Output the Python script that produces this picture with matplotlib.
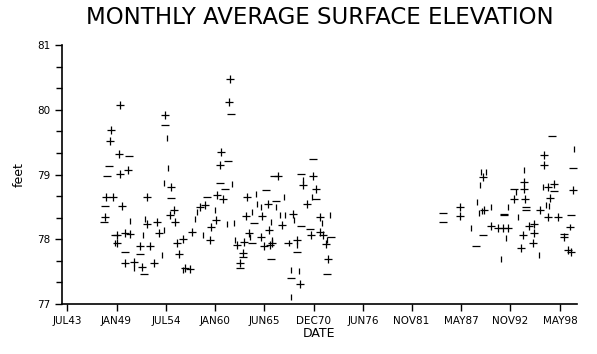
import numpy as np
import matplotlib.pyplot as plt
from matplotlib.ticker import MultipleLocator

# monthly averages, three symbol groups (decimal year, feet)
plus_year = [1949.33, 1948.37, 1948.22, 1949.22, 1949.41, 1950.22, 1947.85, 1948.60, 1949.60, 1952.39,
             1947.74, 1952.39, 1949.04, 1949.04, 1949.97, 1950.53, 1951.56, 1952.76, 1949.97, 1950.89,
             1951.83, 1953.12, 1954.43, 1955.06, 1955.35, 1954.99, 1955.54, 1953.50, 1953.68, 1955.73,
             1956.40, 1955.91, 1956.66, 1957.14, 1957.40, 1958.33, 1958.89, 1959.50, 1959.45, 1961.60,
             1961.56, 1960.64, 1960.48, 1960.19, 1960.86, 1963.46, 1960.11, 1965.83, 1963.35, 1965.21,
             1963.71, 1963.16, 1962.42, 1965.02, 1965.95, 1965.39, 1966.06, 1963.05, 1962.79, 1966.95,
             1970.90, 1969.74, 1971.19, 1970.15, 1968.66, 1967.44, 1970.60, 1971.63, 1971.63, 1972.01,
             1972.27, 1966.32, 1969.03, 1972.52, 1969.40,
             1987.24, 1987.24, 1989.85, 1989.74, 1990.67, 1991.41, 1996.61, 1996.61, 1994.31, 1996.99,
             1997.66, 1999.78, 1993.26, 1994.38, 1994.46, 1997.28, 1996.16, 1996.99, 1998.10, 1995.43,
             1994.94, 1991.97, 1992.53, 1994.20, 1995.49, 1995.31, 1998.84, 1994.01, 1999.22, 1999.58]
plus_feet = [80.08, 79.68, 79.51, 79.31, 79.01, 79.07, 78.66, 78.66, 78.52, 78.65,
             78.34, 78.23, 78.07, 77.95, 78.10, 78.08, 77.90, 77.89, 77.63, 77.65,
             77.58, 77.63, 79.92, 78.81, 78.45, 78.38, 78.26, 78.26, 78.09, 77.95,
             78.01, 77.77, 77.55, 77.54, 78.12, 78.50, 78.53, 78.19, 77.99, 80.47,
             80.12, 79.34, 79.15, 78.68, 78.62, 78.65, 78.30, 78.54, 78.36, 78.36,
             78.09, 77.96, 77.91, 78.04, 78.14, 77.89, 77.91, 77.79, 77.64, 78.97,
             78.98, 78.84, 78.77, 78.54, 78.39, 78.22, 78.06, 78.35, 78.12, 78.06,
             77.92, 77.95, 77.99, 77.69, 77.31,
             78.50, 78.36, 78.46, 78.96, 78.20, 78.18, 79.30, 79.15, 78.89, 78.80,
             78.85, 78.76, 78.62, 78.77, 78.62, 78.63, 78.45, 78.35, 78.35, 78.24,
             78.20, 78.17, 78.17, 78.06, 78.09, 77.94, 78.04, 77.86, 77.83, 77.81]

minus_year = [1950.34, 1948.18, 1947.99, 1947.74, 1947.55, 1949.97, 1951.64, 1952.01, 1954.43, 1955.06,
              1959.08, 1961.68, 1961.37, 1960.48, 1961.12, 1965.58, 1964.27, 1964.09, 1963.05, 1962.71,
              1966.14, 1966.50, 1970.85, 1969.48, 1971.15, 1966.69, 1969.48, 1970.52, 1972.83, 1968.06,
              1969.11, 1972.46, 1968.44, 1948.85,
              1985.28, 1985.28, 1989.74, 1989.00, 1992.08, 1997.43, 1999.78, 1997.66, 1993.19, 1992.14,
              1994.57, 1994.57, 1999.58, 1999.40, 1998.84]
minus_feet = [79.29, 79.13, 78.97, 78.52, 78.26, 77.80, 77.77, 77.47, 79.76, 78.63,
              78.66, 79.94, 79.21, 78.87, 78.77, 78.76, 78.25, 77.94, 77.73, 77.55,
              77.69, 78.97, 79.24, 79.01, 78.62, 78.59, 78.20, 78.16, 78.03, 77.95,
              77.81, 77.47, 77.41, 78.07,
              78.40, 78.26, 78.07, 77.89, 78.37, 79.59, 79.10, 78.75, 78.77, 78.39,
              78.50, 78.45, 78.37, 78.19, 78.08]

vbar_year = [1950.53, 1952.21, 1948.85, 1951.98, 1950.89, 1954.62, 1954.69, 1954.32, 1954.24, 1954.06,
             1957.77, 1958.63, 1957.96, 1956.43, 1961.87, 1964.47, 1960.00, 1961.31, 1962.04, 1964.09,
             1964.65, 1965.02, 1963.90, 1966.14, 1962.23, 1969.74, 1970.79, 1966.69, 1967.62, 1967.17,
             1967.70, 1968.73, 1971.90, 1972.74, 1966.32, 1968.18, 1969.03, 1968.37, 1969.29, 1968.37,
             1972.46,
             1989.13, 1989.33, 1989.68, 1990.67, 1989.55, 1990.11, 1989.47, 1988.44, 1991.78, 1999.89,
             1994.31, 1996.43, 1993.45, 1997.17, 1992.53, 1993.64, 1999.40, 1992.34, 1996.05, 1996.80]
vbar_feet = [78.29, 78.32, 77.94, 78.06, 77.55, 79.56, 79.10, 78.87, 78.14, 77.76,
             78.32, 78.06, 78.42, 77.52, 78.85, 78.70, 78.45, 78.24, 78.25, 78.42,
             78.54, 78.50, 78.04, 78.27, 77.99, 78.92, 78.66, 78.50, 78.66, 78.37,
             78.37, 78.30, 78.25, 78.37, 77.99, 77.95, 77.91, 77.52, 77.51, 77.11,
             77.99,
             78.57, 78.40, 78.43, 78.50, 79.04, 79.04, 78.84, 78.17, 77.69, 79.39,
             79.07, 78.81, 78.73, 78.51, 78.50, 78.35, 78.19, 78.02, 77.76, 78.53]

tick_pos = [1943.5, 1949.0, 1954.5, 1960.0, 1965.42, 1970.92, 1976.42, 1981.83, 1987.33, 1992.83, 1998.33]
tick_lab = ['JUL43', 'JAN49', 'JUL54', 'JAN60', 'JUN65', 'DEC70', 'JUN76', 'NOV81', 'MAY87', 'NOV92', 'MAY98']

fig = plt.figure(figsize=(5.97, 3.54), dpi=100)
ax = fig.add_axes([0.104, 0.141, 0.862, 0.732])

ax.plot(plus_year, plus_feet, linestyle='none', marker='+', color='black', markersize=5.5, markeredgewidth=0.9)
ax.plot(minus_year, minus_feet, linestyle='none', marker='_', color='black', markersize=5.5, markeredgewidth=0.9)
ax.plot(vbar_year, vbar_feet, linestyle='none', marker='|', color='black', markersize=5, markeredgewidth=0.9)

ax.set_xlim(1942.94, 2000.2)
ax.set_ylim(77, 81)
ax.set_xticks(tick_pos)
ax.set_xticklabels(tick_lab, fontsize=7.5)
ax.set_yticks([77, 78, 79, 80, 81])
ax.set_yticklabels(['77', '78', '79', '80', '81'], fontsize=7.5)
ax.yaxis.set_minor_locator(MultipleLocator(1 / 3))
ax.tick_params(axis='both', which='major', direction='out', length=5, width=1)
ax.tick_params(axis='y', which='minor', direction='out', length=4, width=1)

for side in ['top', 'right']:
    ax.spines[side].set_visible(False)
ax.spines['left'].set_linewidth(1.2)
ax.spines['bottom'].set_linewidth(1.2)

ax.set_xlabel('DATE', fontsize=9, labelpad=1)
ax.set_ylabel('feet', fontsize=9, labelpad=8)
fig.text(0.535, 0.95, 'MONTHLY AVERAGE SURFACE ELEVATION', ha='center', va='center', fontsize=16.5)

fig.savefig('out.png', dpi=100)
